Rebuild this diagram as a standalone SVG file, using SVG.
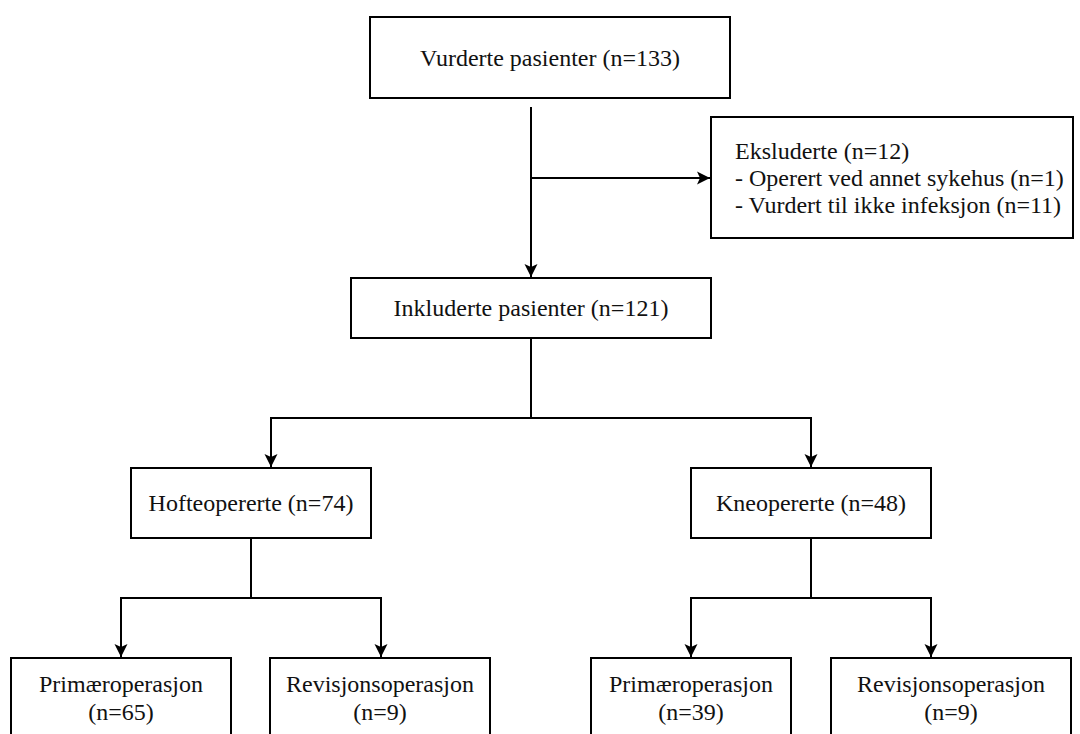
<svg xmlns="http://www.w3.org/2000/svg" width="1080" height="734" viewBox="0 0 1080 734">
<style>
.box{fill:#fff;stroke:#000;stroke-width:2}
.t{font-family:"Liberation Serif","Times New Roman",serif;font-size:24px;fill:#111;text-anchor:middle}
.tl{font-family:"Liberation Serif","Times New Roman",serif;font-size:24px;fill:#111;text-anchor:start}
.c{fill:none;stroke:#000;stroke-width:2}
</style>
<defs>
<marker id="arr" markerUnits="userSpaceOnUse" markerWidth="16" markerHeight="16" viewBox="-14 -8 16 16" refX="0" refY="0" orient="auto">
<path d="M0,0 L-13,-6.5 L-10,0 L-13,6.5 Z" fill="#000"/>
</marker>
</defs>
<rect width="1080" height="734" fill="#fff"/>
<g id="connectors">
<path class="c" d="M531,107 V277" marker-end="url(#arr)"/>
<path class="c" d="M531,178 H710" marker-end="url(#arr)"/>
<path class="c" d="M531,338 V418 H271 V467" marker-end="url(#arr)"/>
<path class="c" d="M531,418 H811 V467" marker-end="url(#arr)"/>
<path class="c" d="M251,538 V598 H121 V657" marker-end="url(#arr)"/>
<path class="c" d="M251,598 H381 V657" marker-end="url(#arr)"/>
<path class="c" d="M811,538 V598 H691 V657" marker-end="url(#arr)"/>
<path class="c" d="M811,598 H931 V657" marker-end="url(#arr)"/>
</g>
<g id="vurderte">
<rect class="box" x="370" y="17" width="360" height="81"/>
<text class="t" x="550" y="66">Vurderte pasienter (n=133)</text>
</g>
<g id="ekskluderte">
<rect class="box" x="711" y="117" width="362" height="121"/>
<text class="tl" x="735" y="159">Eksluderte (n=12)</text>
<text class="tl" x="735" y="186">- Operert ved annet sykehus (n=1)</text>
<text class="tl" x="735" y="213">- Vurdert til ikke infeksjon (n=11)</text>
</g>
<g id="inkluderte">
<rect class="box" x="351" y="278" width="360" height="60"/>
<text class="t" x="531" y="316">Inkluderte pasienter (n=121)</text>
</g>
<g id="hofte">
<rect class="box" x="131" y="468" width="240" height="70"/>
<text class="t" x="251" y="511">Hofteopererte (n=74)</text>
</g>
<g id="kne">
<rect class="box" x="691" y="468" width="240" height="70"/>
<text class="t" x="811" y="511">Kneopererte (n=48)</text>
</g>
<g id="hofte-primaer">
<rect class="box" x="11" y="658" width="220" height="90"/>
<text class="t" x="121" y="692">Primæroperasjon</text>
<text class="t" x="121" y="720">(n=65)</text>
</g>
<g id="hofte-revisjon">
<rect class="box" x="270" y="658" width="220" height="90"/>
<text class="t" x="380" y="692">Revisjonsoperasjon</text>
<text class="t" x="380" y="720">(n=9)</text>
</g>
<g id="kne-primaer">
<rect class="box" x="591" y="658" width="200" height="90"/>
<text class="t" x="691" y="692">Primæroperasjon</text>
<text class="t" x="691" y="720">(n=39)</text>
</g>
<g id="kne-revisjon">
<rect class="box" x="831" y="658" width="240" height="90"/>
<text class="t" x="951" y="692">Revisjonsoperasjon</text>
<text class="t" x="951" y="720">(n=9)</text>
</g>
</svg>
